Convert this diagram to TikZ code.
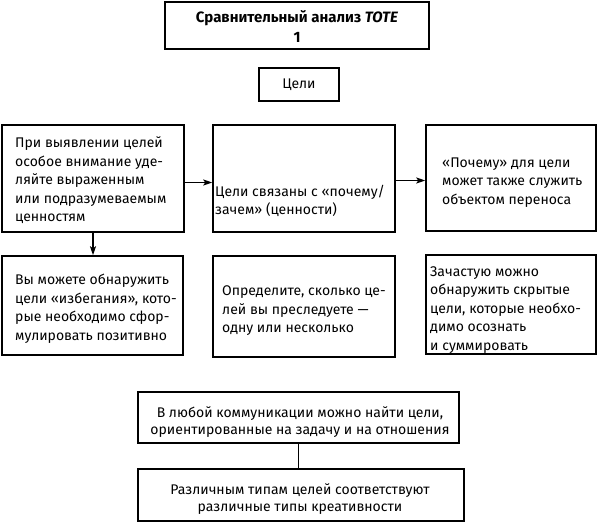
\documentclass[tikz,border=0pt]{standalone}
\usepackage{fontspec}
\setmainfont{Fira Sans}
\usetikzlibrary{arrows.meta}
\newcommand\lnsl[1]{\begin{tabular}[t]{@{}l@{}}#1\end{tabular}}
\newcommand\lnsc[1]{\begin{tabular}[t]{@{}c@{}}#1\end{tabular}}
\begin{document}
\begin{tikzpicture}[x=1pt,y=-1pt,
  box/.style={draw, line width=1.5pt, inner sep=0pt},
  txt/.style={inner sep=0pt, font=\fontsize{14}{18.5}\selectfont},
  txtl/.style={txt, anchor=base west},
  txtc/.style={txt, anchor=base},
  arr/.style={line width=1.7pt, -{Stealth[length=9pt,width=6pt,inset=2pt]}},
  conn/.style={line width=1.8pt}]
\useasboundingbox (0,0) rectangle (597,523);
% boxes
\node[box, minimum width=264pt, minimum height=47pt] (title) at (297,25.5) {};
\node[box, minimum width=80pt, minimum height=33pt, font=\fontsize{14}{18.5}\selectfont] (goal) at (299,84.5) {Цели};
\node[box, minimum width=182pt, minimum height=107pt] (b1) at (93,178.5) {};
\node[box, minimum width=182pt, minimum height=107pt] (b2) at (304,178.5) {};
\node[box, minimum width=170pt, minimum height=106pt] (b3) at (511,178) {};
\node[box, minimum width=181pt, minimum height=99pt] (b4) at (92.5,305.5) {};
\node[box, minimum width=182pt, minimum height=101pt] (b5) at (304,306.5) {};
\node[box, minimum width=170pt, minimum height=99pt] (b6) at (511,304.5) {};
\node[box, minimum width=321pt, minimum height=51pt] (b7) at (298.5,417.5) {};
\node[box, minimum width=326pt, minimum height=52pt] (b8) at (301,495) {};
% texts
\node[txtc, font=\fontsize{15}{20}\selectfont\bfseries] (ttitle) at (297,22) {\lnsc{Сравнительный анализ \textit{TOTE}\\1}};
\node[txtl] (t1) at (15,147.5) {\lnsl{При выявлении целей\\особое внимание уде-\\ляйте выраженным\\или подразумеваемым\\ценностям}};
\node[txtl] (t2) at (215,196) {\lnsl{Цели связаны с «почему/\\зачем» (ценности)}};
\node[txtl] (t3) at (442,167) {\lnsl{«Почему» для цели\\может также служить\\объектом переноса}};
\node[txtl] (t4) at (15,284.5) {\lnsl{Вы можете обнаружить\\цели «избегания», кото-\\рые необходимо сфор-\\мулировать позитивно}};
\node[txtl] (t5) at (222,295.5) {\lnsl{Определите, сколько це-\\лей вы преследуете —\\одну или несколько}};
\node[txtl] (t6) at (430,276) {\lnsl{Зачастую можно\\обнаружить скрытые\\цели, которые необхо-\\димо осознать\\и суммировать}};
\node[txtc, font=\fontsize{14}{17.5}\selectfont] (t7) at (300,417) {\lnsc{В любой коммуникации можно найти цели,\\ориентированные на задачу и на отношения}};
\node[txtc, font=\fontsize{14}{17.5}\selectfont] (t8) at (300,494) {\lnsc{Различным типам целей соответствуют\\различные типы креативности}};
% connectors
\draw[arr] ([yshift=-4pt]b1.east) -- ([yshift=-4pt]b1.east -| b2.west);
\draw[arr] ([yshift=-2pt]b2.east) -- ([yshift=-2pt]b2.east -| b3.west);
\draw[arr] (b1.south) -- (b1.south |- b4.north);
\draw[conn] (b7.south) -- (b7.south |- b8.north);
\end{tikzpicture}
\end{document}
